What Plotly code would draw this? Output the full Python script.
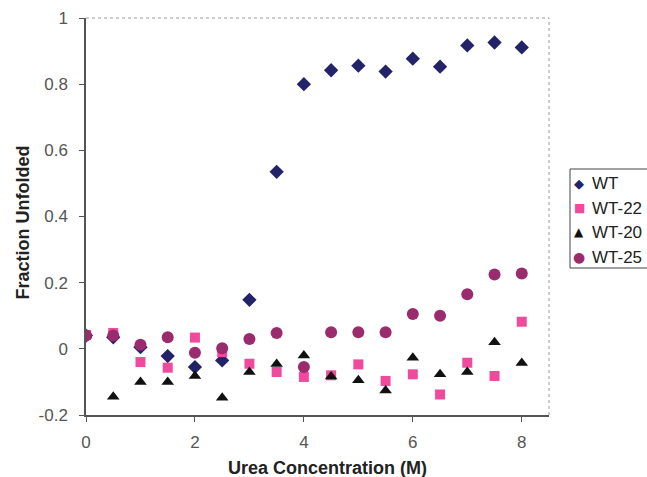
import plotly.graph_objects as go

urea = [0, 0.5, 1, 1.5, 2, 2.5, 3, 3.5, 4, 4.5, 5, 5.5, 6, 6.5, 7, 7.5, 8]
wt = [0.04, 0.035, 0.005, -0.022, -0.055, -0.035, 0.148, 0.535, 0.80, 0.842, 0.856, 0.838, 0.877, 0.853, 0.917, 0.926, 0.911]
wt22 = [0.042, 0.048, -0.04, -0.057, 0.034, -0.01, -0.045, -0.07, -0.085, -0.08, -0.047, -0.097, -0.077, -0.138, -0.042, -0.082, 0.082]
wt20 = [0.04, -0.145, -0.1, -0.1, -0.082, -0.148, -0.07, -0.046, -0.02, -0.084, -0.095, -0.126, -0.027, -0.077, -0.07, 0.02, -0.043]
wt25 = [0.04, 0.04, 0.012, 0.035, -0.012, 0.002, 0.03, 0.048, -0.055, 0.05, 0.05, 0.05, 0.105, 0.1, 0.165, 0.225, 0.228]

series_names = ["WT", "WT-22", "WT-20", "WT-25"]
series_colors = ["#23236a", "#f04a9c", "#111111", "#9a2c6e"]
series_symbols = ["diamond", "square", "triangle-up", "circle"]
legend_glyphs = ["\u25C6", "\u25A0", "\u25B2", "\u25CF"]

x_ticks = [0, 2, 4, 6, 8]
y_ticks = [-0.2, 0, 0.2, 0.4, 0.6, 0.8, 1]
y_tick_text = ["-0.2", "0", "0.2", "0.4", "0.6", "0.8", "1"]
x_title = "Urea Concentration (M)"
y_title = "Fraction Unfolded"

W, H = 647, 477
ML, MR, MT, MB = 86, 98, 18, 62

fig = go.Figure()
for name, ys, col, sym, sz in zip(series_names, [wt, wt22, wt20, wt25], series_colors,
                                  series_symbols, [11, 10, 11, 12]):
    fig.add_trace(go.Scatter(x=urea, y=ys, mode="markers", name=name, showlegend=False,
                             marker=dict(symbol=sym, size=sz, color=col)))

font_family = "Liberation Sans, Arial, sans-serif"

pw, ph = W - ML - MR, H - MT - MB
def px_to_paper(px, py):
    return (px - ML) / pw, (H - MB - py) / ph

shapes = [
    dict(type="line", xref="x domain", yref="y domain", x0=0, x1=1, y0=1, y1=1,
         line=dict(color="#999999", width=1, dash="dot")),
    dict(type="line", xref="x domain", yref="y domain", x0=1, x1=1, y0=0, y1=1,
         line=dict(color="#999999", width=1, dash="dot")),
]
# legend box (partly cut by the right edge, as in the reference)
bx0, by0 = px_to_paper(570, 268)
bx1, by1 = px_to_paper(665, 169)
shapes.append(dict(type="rect", xref="paper", yref="paper", x0=bx0, x1=bx1, y0=by0, y1=by1,
                   line=dict(color="#444444", width=1), fillcolor="white", layer="below"))

annotations = []
entry_y = [183, 208, 232, 257]
glyph_sizes = [13, 12, 12, 14]
for name, col, g, yy, gs in zip(series_names, series_colors, legend_glyphs, entry_y, glyph_sizes):
    gx, gy = px_to_paper(579, yy)
    annotations.append(dict(xref="paper", yref="paper", x=gx, y=gy, text=g, showarrow=False,
                            xanchor="center", yanchor="middle",
                            font=dict(family="DejaVu Sans", size=gs, color=col)))
    tx, ty = px_to_paper(590, yy)
    annotations.append(dict(xref="paper", yref="paper", x=tx, y=ty, text=name, showarrow=False,
                            xanchor="left", yanchor="middle",
                            font=dict(family=font_family, size=17, color="#222222")))

# axis titles
xtx, xty = px_to_paper(327, 468)
annotations.append(dict(xref="paper", yref="paper", x=xtx, y=xty, text="<b>" + x_title + "</b>",
                        showarrow=False, xanchor="center", yanchor="middle",
                        font=dict(family=font_family, size=18, color="#222222")))
ytx, yty = px_to_paper(22.5, 223)
annotations.append(dict(xref="paper", yref="paper", x=ytx, y=yty, text="<b>" + y_title + "</b>",
                        showarrow=False, xanchor="center", yanchor="middle", textangle=-90,
                        font=dict(family=font_family, size=18, color="#222222")))

fig.update_layout(
    width=W, height=H,
    margin=dict(l=ML, r=MR, t=MT, b=MB, autoexpand=False),
    paper_bgcolor="white", plot_bgcolor="white",
    font=dict(family=font_family, color="#333333"),
    showlegend=False,
    xaxis=dict(range=[0, 8.5], tickvals=x_ticks, ticks="outside", ticklen=5,
               tickcolor="#555555", showline=True, linecolor="#555555", linewidth=1.5,
               showgrid=False, zeroline=False,
               tickfont=dict(size=17, color="#555555"), ticklabelstandoff=6),
    yaxis=dict(range=[-0.2, 1], tickvals=y_ticks, ticktext=y_tick_text, ticks="outside", ticklen=5,
               tickcolor="#555555", showline=True, linecolor="#555555", linewidth=1.5,
               showgrid=False, zeroline=False,
               tickfont=dict(size=17, color="#555555"), ticklabelstandoff=8),
    shapes=shapes,
    annotations=annotations,
)

fig.write_html("out.html", config={"displayModeBar": False},
               post_script="document.body.style.margin='0';")
